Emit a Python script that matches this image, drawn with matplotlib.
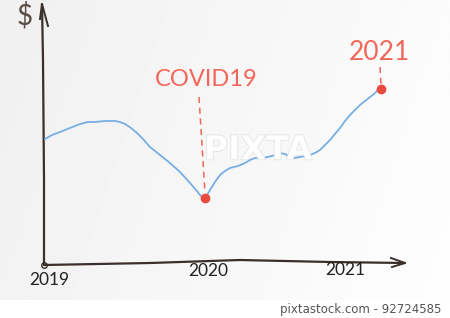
import numpy as np
import matplotlib.pyplot as plt
from matplotlib import patheffects as pe

# hand drawn whiteboard chart, coordinates are board units (x right, y down)
line_x = [45, 52, 60, 70, 80, 88, 95, 105, 115, 120, 125, 131, 137, 143, 150,
          160, 170, 180, 190, 196, 200, 203, 206, 210, 215, 220, 225, 230, 238,
          245, 250, 255, 263, 272, 280, 285, 290, 295, 300, 305, 310, 315, 320,
          325, 330, 335, 340, 345, 350, 355, 360, 365, 370, 374, 378]
line_y = [139, 135, 132, 128, 124, 122, 122, 121, 121, 122, 124, 128, 133, 139, 147,
          155, 163, 172, 183, 190, 195, 198, 197, 190, 182, 175, 171, 168, 166,
          163, 160, 158, 158, 156, 153, 154, 157, 158, 157, 156, 155, 153, 150,
          145, 140, 134, 128, 121, 115, 110, 105, 101, 97, 94, 90]

events = ["COVID19", "2021"]
event_x = [205, 381]
event_y = [198, 89]
event_size = [17, 19]
event_label_xy = [(206, 80), (379, 52)]
event_dash_top = [(199, 97), (380, 67)]

year_labels = ["2019", "2020", "2021"]
year_x = [49, 208, 345]
year_y = [280, 271, 270]

axis_x = [44, 44, 43, 42]
axis_y = [265, 180, 60, 4]
base_x = [44, 150, 240, 330, 405]
base_y = [265, 263, 260, 262, 263]

INK = "#3a2f2a"
BLUE = "#76aee4"
RED = "#f2665a"

fig = plt.figure(figsize=(4.5, 3.18), dpi=100)
ax = fig.add_axes([0, 0, 1, 1])
ax.set_xlim(0, 450)
ax.set_ylim(318, 0)
ax.axis("off")

# board background, slightly greyer on the left
gx = np.linspace(0, 1, 200)
gy = np.linspace(0, 1, 120)
grad = 0.94 + 0.045 * gx[None, :] + 0.01 * gy[:, None]
ax.imshow(grad, cmap="gray", vmin=0, vmax=1, extent=(0, 450, 300, 0),
          aspect="auto", zorder=0)

# axes drawn by hand
ax.plot(axis_x, axis_y, color=INK, lw=1.6, solid_capstyle="round", zorder=2)
ax.plot([40, 42, 48], [19, 4, 26], color=INK, lw=1.4, zorder=2)
ax.plot(base_x, base_y, color=INK, lw=1.6, solid_capstyle="round", zorder=2)
ax.plot([391, 405, 392], [258, 263, 267], color=INK, lw=1.4, zorder=2)
ax.plot([44], [265], marker="o", ms=4, mfc="none", mec=INK, mew=1, zorder=3)

hand = ["Lato", "DejaVu Sans"]
ax.text(25, 16, "$", color="#5a4d45", fontsize=20, family=hand,
        ha="center", va="center", zorder=3)

for lab, x, y in zip(year_labels, year_x, year_y):
    ax.text(x, y, lab, color="#222222", fontsize=12.5, family=hand,
            ha="center", va="center", zorder=3)

# series
ax.plot(line_x, line_y, color=BLUE, lw=1.3, zorder=3)

for name, x, y, fs, (lx, ly), (dx, dy) in zip(events, event_x, event_y, event_size,
                                              event_label_xy, event_dash_top):
    ax.plot([dx, x], [dy, y - 5], color=RED, lw=1.1, ls=(0, (4, 3)), zorder=3)
    ax.plot([x], [y], "o", color="#e94a40", ms=6, zorder=4)
    ax.text(lx, ly, name, color=RED, fontsize=fs, family=hand,
            ha="center", va="center", zorder=4)

# watermark
ax.text(258, 150, "PIXTA", color="white", fontsize=24, weight="bold",
        ha="center", va="center", alpha=0.9, zorder=5,
        path_effects=[pe.withStroke(linewidth=1.0, foreground="#dedede")])

ax.text(441, 309, "pixtastock.com - 92724585", color="#555555", fontsize=8.5,
        ha="right", va="center", zorder=5)

fig.savefig("out.png", dpi=100)
